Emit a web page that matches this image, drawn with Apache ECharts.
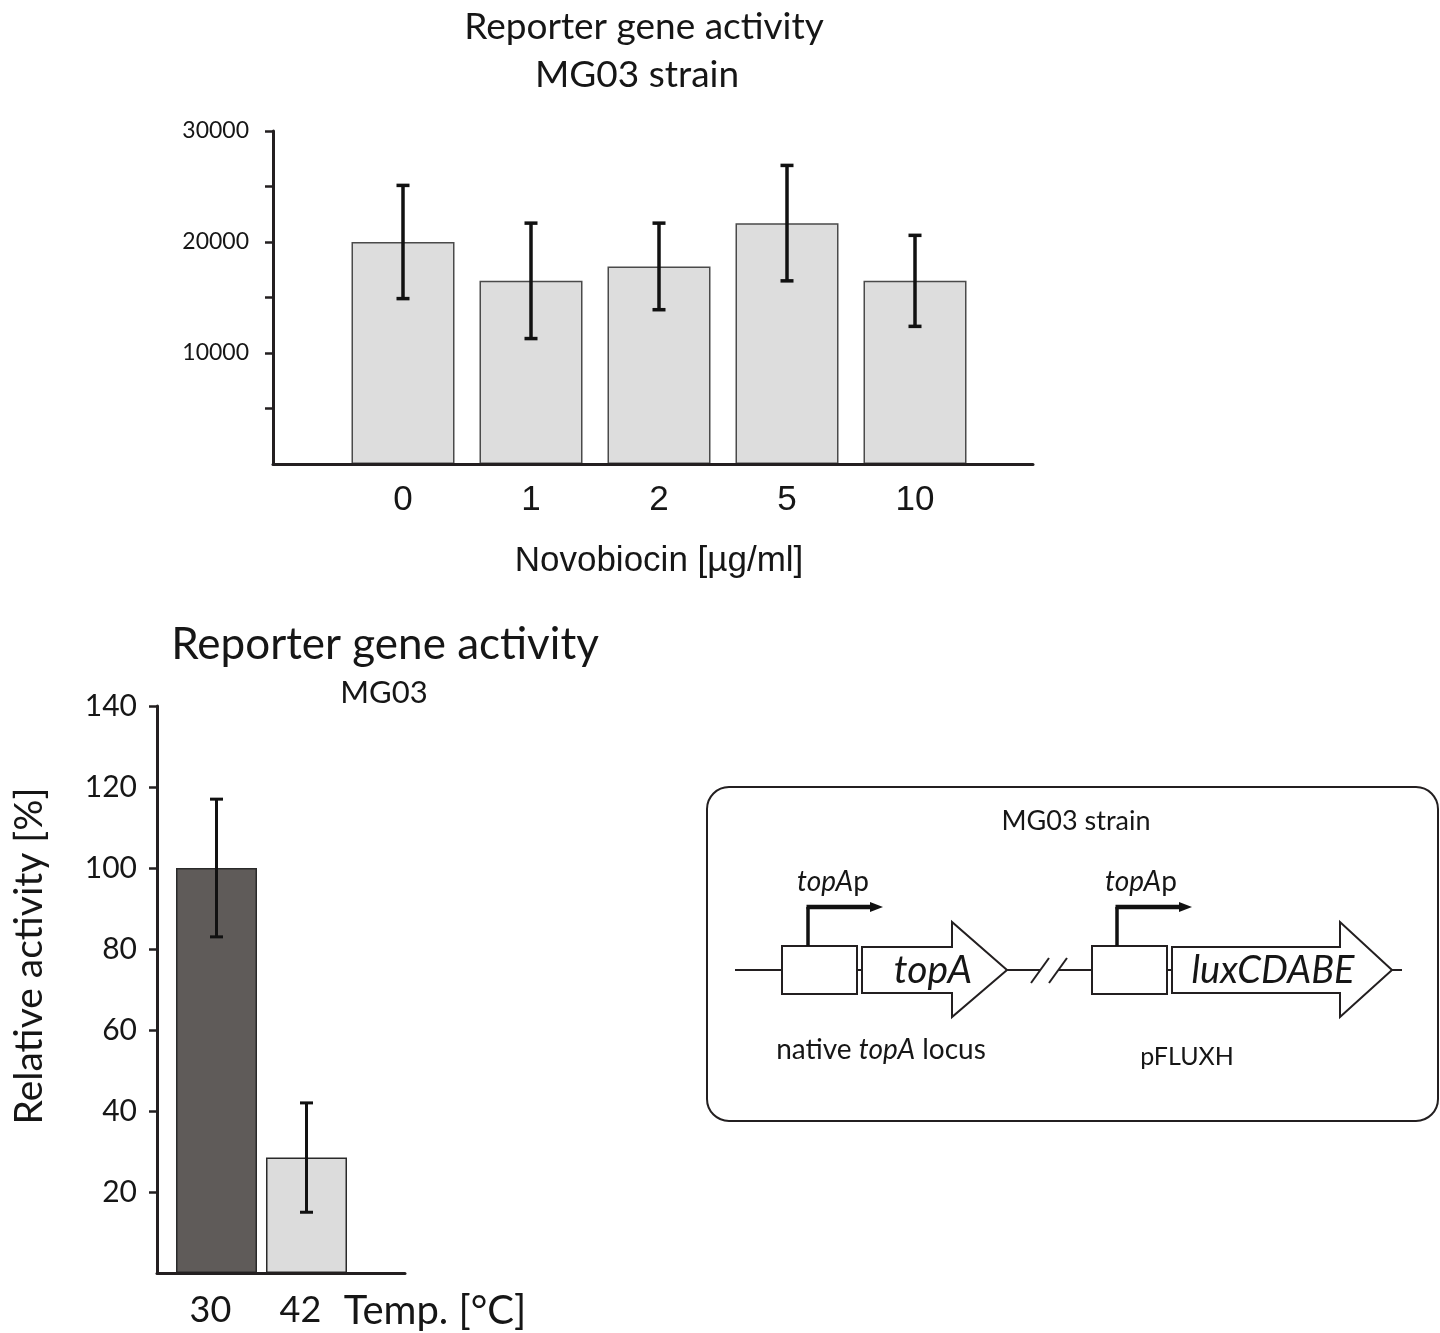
<!DOCTYPE html>
<html><head><meta charset="utf-8">
<script src="https://cdn.jsdelivr.net/npm/echarts@6/dist/echarts.min.js"></script>
<style>html,body{margin:0;padding:0;background:#fff}#c{width:1440px;height:1333px}</style>
</head><body><div id="c"></div>
<script>
// ---- data ----
const novoCategories = ['0', '1', '2', '5', '10'];
const novoValues = [20000, 16500, 17800, 21700, 16500];
const novoErrors = [5100, 5200, 3900, 5200, 4100];
const novoTickValues = [5000, 10000, 15000, 20000, 25000, 30000];
const novoLabelValues = [10000, 20000, 30000];

const tempCategories = ['30', '42'];
const tempValues = [100, 28.5];
const tempErrors = [17, 13.5];
const tempTickValues = [20, 40, 60, 80, 100, 120, 140];

// ---- styles ----
const AX = '#231f20';
const TXT = '#161616';
const CAL = 'Lato';
const ARIAL = 'Liberation Sans';

function errRender(capHalf, lw) {
  return function (params, api) {
    const x = api.value(0), lo = api.value(1), hi = api.value(2);
    const pLo = api.coord([x, lo]), pHi = api.coord([x, hi]);
    const style = { stroke: '#111', lineWidth: lw };
    return { type: 'group', children: [
      { type: 'line', shape: { x1: pHi[0], y1: pHi[1], x2: pLo[0], y2: pLo[1] }, style },
      { type: 'line', shape: { x1: pHi[0] - capHalf, y1: pHi[1], x2: pHi[0] + capHalf, y2: pHi[1] }, style },
      { type: 'line', shape: { x1: pLo[0] - capHalf, y1: pLo[1], x2: pLo[0] + capHalf, y2: pLo[1] }, style }
    ]};
  };
}

const chart = echarts.init(document.getElementById('c'), null, { renderer: 'canvas' });

const italicRich = (size) => ({ i: { fontFamily: CAL, fontStyle: 'italic', fontSize: size, fill: TXT } });

const option = {
  backgroundColor: '#fff',
  animation: false,
  title: [
    { text: 'Reporter gene activity', left: 644, top: 5, textAlign: 'center', padding: 0,
      textStyle: { fontFamily: CAL, fontSize: 37, fontWeight: 'normal', color: TXT, lineHeight: 44 } },
    { text: 'MG03 strain', left: 637, top: 53, textAlign: 'center', padding: 0,
      textStyle: { fontFamily: CAL, fontSize: 37, fontWeight: 'normal', color: TXT, lineHeight: 44 } },
    { text: 'Reporter gene activity', left: 385, top: 620, textAlign: 'center', padding: 0,
      textStyle: { fontFamily: CAL, fontSize: 44, fontWeight: 'normal', color: TXT, lineHeight: 50 } },
    { text: 'MG03', left: 384, top: 675, textAlign: 'center', padding: 0,
      textStyle: { fontFamily: CAL, fontSize: 31, fontWeight: 'normal', color: TXT, lineHeight: 36 } },
    { text: 'Temp. [°C]', left: 435, top: 1289, textAlign: 'center', padding: 0,
      textStyle: { fontFamily: CAL, fontSize: 40, fontWeight: 'normal', color: TXT, lineHeight: 44 } }
  ],
  grid: [
    { left: 273, top: 131, width: 760, height: 333 },
    { left: 339, top: 131, width: 640, height: 333 },
    { left: 157, top: 706, width: 248, height: 567 },
    { left: 171.5, top: 706, width: 180, height: 567 }
  ],
  xAxis: [
    { gridIndex: 0, type: 'value', min: 0, max: 1, z: 5,
      axisLine: { show: true, lineStyle: { color: AX, width: 3 } },
      axisTick: { show: false }, axisLabel: { show: false }, splitLine: { show: false } },
    { gridIndex: 1, type: 'category', data: novoCategories,
      axisLine: { show: false }, axisTick: { show: false },
      axisLabel: { margin: 19, fontFamily: ARIAL, fontSize: 35, color: TXT },
      name: 'Novobiocin [µg/ml]', nameLocation: 'middle', nameGap: 80,
      nameTextStyle: { fontFamily: ARIAL, fontSize: 35, color: TXT } },
    { gridIndex: 2, type: 'value', min: 0, max: 1, z: 5,
      axisLine: { show: true, lineStyle: { color: AX, width: 3 } },
      axisTick: { show: false }, axisLabel: { show: false }, splitLine: { show: false } },
    { gridIndex: 3, type: 'category', data: tempCategories,
      axisLine: { show: false }, axisTick: { show: false },
      axisLabel: { margin: 19, fontFamily: CAL, fontSize: 36, color: TXT, padding: [0, 12, 0, 0] } }
  ],
  yAxis: [
    { gridIndex: 0, type: 'value', min: 0, max: 30000, interval: 5000, z: 5,
      axisLine: { show: true, lineStyle: { color: AX, width: 3 } },
      axisTick: { show: true, inside: false, length: 8, lineStyle: { color: AX, width: 2.5 }, customValues: novoTickValues },
      axisLabel: { margin: 24, fontFamily: CAL, fontSize: 23, color: TXT, customValues: novoLabelValues,
        formatter: (v) => String(v) },
      splitLine: { show: false } },
    { gridIndex: 1, type: 'value', min: 0, max: 30000, show: false, splitLine: { show: false } },
    { gridIndex: 2, type: 'value', min: 0, max: 140, interval: 20, z: 5,
      axisLine: { show: true, lineStyle: { color: AX, width: 3 } },
      axisTick: { show: true, inside: false, length: 8, lineStyle: { color: AX, width: 2.5 }, customValues: tempTickValues },
      axisLabel: { margin: 20, fontFamily: CAL, fontSize: 30, color: TXT, customValues: tempTickValues,
        formatter: (v) => String(v) },
      splitLine: { show: false } },
    { gridIndex: 3, type: 'value', min: 0, max: 140, show: false, splitLine: { show: false } }
  ],
  series: [
    { type: 'bar', xAxisIndex: 1, yAxisIndex: 1, data: novoValues, barWidth: 103, z: 1,
      itemStyle: { color: '#dddddd', borderColor: '#4a4a4a', borderWidth: 1.5 } },
    { type: 'custom', xAxisIndex: 1, yAxisIndex: 1, z: 3,
      data: novoValues.map((v, i) => [i, v - novoErrors[i], v + novoErrors[i]]),
      renderItem: errRender(6.5, 3.5) },
    { type: 'bar', xAxisIndex: 3, yAxisIndex: 3, barWidth: 81, z: 1,
      data: tempValues.map((v, i) => ({ value: v, itemStyle: { color: i === 0 ? '#5f5b59' : '#dcdcdc' } })),
      itemStyle: { borderColor: '#2a2a2a', borderWidth: 1.5 } },
    { type: 'custom', xAxisIndex: 3, yAxisIndex: 3, z: 3,
      data: tempValues.map((v, i) => [i, v - tempErrors[i], v + tempErrors[i]]),
      renderItem: errRender(6.5, 3) }
  ],
  graphic: [
    { type: 'text', x: 29, y: 956, rotation: Math.PI / 2,
      style: { text: 'Relative activity [%]', fontFamily: CAL, fontSize: 39, fill: TXT, align: 'center', verticalAlign: 'middle' } },
    // schematic box
    { type: 'rect', shape: { x: 707, y: 787, width: 731, height: 334, r: 22 }, style: { fill: 'none', stroke: AX, lineWidth: 2 } },
    { type: 'text', x: 1076, y: 821, style: { text: 'MG03 strain', fontFamily: CAL, fontSize: 27, fill: TXT, align: 'center', verticalAlign: 'middle' } },
    { type: 'line', shape: { x1: 735, y1: 970, x2: 782, y2: 970 }, style: { stroke: AX, lineWidth: 2 } },
    { type: 'rect', shape: { x: 782, y: 946, width: 75, height: 48 }, style: { fill: '#fff', stroke: AX, lineWidth: 2 } },
    { type: 'line', shape: { x1: 857, y1: 970, x2: 862, y2: 970 }, style: { stroke: AX, lineWidth: 2 } },
    { type: 'polygon', shape: { points: [[862, 947], [952, 947], [952, 922], [1007, 970], [952, 1017], [952, 993], [862, 993]] }, style: { fill: '#fff', stroke: AX, lineWidth: 2 } },
    { type: 'text', x: 933, y: 970, style: { text: 'topA', fontFamily: CAL, fontStyle: 'italic', fontSize: 39, fill: TXT, align: 'center', verticalAlign: 'middle' } },
    { type: 'line', shape: { x1: 1007, y1: 970, x2: 1040, y2: 970 }, style: { stroke: AX, lineWidth: 2 } },
    { type: 'line', shape: { x1: 1031, y1: 983, x2: 1049, y2: 958 }, style: { stroke: AX, lineWidth: 2 } },
    { type: 'line', shape: { x1: 1049, y1: 983, x2: 1067, y2: 958 }, style: { stroke: AX, lineWidth: 2 } },
    { type: 'line', shape: { x1: 1058, y1: 970, x2: 1092, y2: 970 }, style: { stroke: AX, lineWidth: 2 } },
    { type: 'rect', shape: { x: 1092, y: 946, width: 75, height: 48 }, style: { fill: '#fff', stroke: AX, lineWidth: 2 } },
    { type: 'line', shape: { x1: 1167, y1: 970, x2: 1172, y2: 970 }, style: { stroke: AX, lineWidth: 2 } },
    { type: 'polygon', shape: { points: [[1172, 947], [1340, 947], [1340, 922], [1392, 970], [1340, 1017], [1340, 993], [1172, 993]] }, style: { fill: '#fff', stroke: AX, lineWidth: 2 } },
    { type: 'text', x: 1273, y: 971, style: { text: 'luxCDABE', fontFamily: CAL, fontStyle: 'italic', fontSize: 38, fill: TXT, align: 'center', verticalAlign: 'middle' } },
    { type: 'line', shape: { x1: 1392, y1: 970, x2: 1402, y2: 970 }, style: { stroke: AX, lineWidth: 2 } },
    // promoters
    { type: 'line', shape: { x1: 808, y1: 946, x2: 808, y2: 907 }, style: { stroke: '#111', lineWidth: 3.5 } },
    { type: 'line', shape: { x1: 806.5, y1: 907, x2: 871, y2: 907 }, style: { stroke: '#111', lineWidth: 4.5 } },
    { type: 'polygon', shape: { points: [[870, 902], [883, 907], [870, 912]] }, style: { fill: '#111' } },
    { type: 'line', shape: { x1: 1117, y1: 946, x2: 1117, y2: 907 }, style: { stroke: '#111', lineWidth: 3.5 } },
    { type: 'line', shape: { x1: 1115.5, y1: 907, x2: 1180, y2: 907 }, style: { stroke: '#111', lineWidth: 4.5 } },
    { type: 'polygon', shape: { points: [[1179, 902], [1192, 907], [1179, 912]] }, style: { fill: '#111' } },
    { type: 'text', x: 833, y: 882, style: { text: '{i|topA}p', fontFamily: CAL, fontSize: 28, fill: TXT, align: 'center', verticalAlign: 'middle', rich: italicRich(28) } },
    { type: 'text', x: 1141, y: 882, style: { text: '{i|topA}p', fontFamily: CAL, fontSize: 28, fill: TXT, align: 'center', verticalAlign: 'middle', rich: italicRich(28) } },
    { type: 'text', x: 881, y: 1050, style: { text: 'native {i|topA} locus', fontFamily: CAL, fontSize: 28, fill: TXT, align: 'center', verticalAlign: 'middle', rich: italicRich(28) } },
    { type: 'text', x: 1187, y: 1057, style: { text: 'pFLUXH', fontFamily: CAL, fontSize: 25, fill: TXT, align: 'center', verticalAlign: 'middle' } }
  ]
};
chart.setOption(option);
</script>
</body></html>
